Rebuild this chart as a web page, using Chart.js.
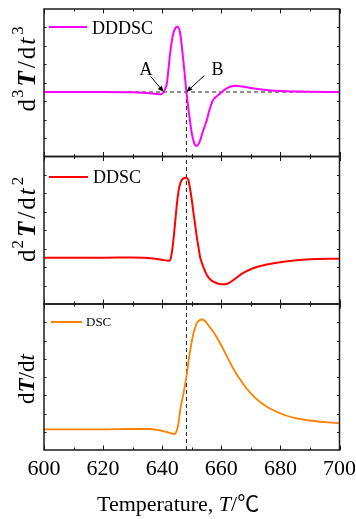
<!DOCTYPE html>
<html>
<head>
<meta charset="utf-8">
<script src="https://cdn.jsdelivr.net/npm/chart.js@4/dist/chart.umd.min.js"></script>
<style>
html,body{margin:0;padding:0;background:#fff;}
#wrap{position:relative;width:356px;height:519px;}
canvas{position:absolute;left:0;top:0;}
</style>
</head>
<body>
<div id="wrap">
<canvas id="c1" width="356" height="519"></canvas>
<canvas id="c2" width="356" height="519"></canvas>
<canvas id="c3" width="356" height="519"></canvas>
</div>
<script>
// ---------------- data ----------------
const xMin = 600, xMax = 700;
const xTickLabels = [600, 620, 640, 660, 680, 700];

const dddscT = [600,610,620,630,635,638,639.5,640.5,641,641.6,642.1,642.7,643.2,643.8,644.6,645.3,646,646.4,646.7,647.2,647.8,648.2,648.6,649,649.5,650,650.6,651.1,651.7,652.3,652.9,653.5,654.3,655.1,655.7,656.3,657,657.6,658.4,659.2,660,661,661.8,663.5,665,667,670,673,676,680,685,690,700];
const dddscV = [0,0,0,-0.3,-1,-2,-2.3,0,3,9,22,39,50,59,64.5,65.3,60,52,44,30,12,0,-10,-20,-31,-41,-49,-53,-54,-52,-48,-42,-35,-28,-21,-15,-9.5,-6.5,-4.5,-2.5,-0.5,2,3.7,5.8,6.3,5.5,4,2.7,1.8,1,0.5,0.2,0];

const ddscT = [600,620,630,633.6,637,640,642.2,642.7,643.2,643.8,644.4,645,645.5,646.1,647,648.1,648.8,649.5,650.1,650.6,651.2,651.7,652.3,652.8,653.4,654,655.1,656.2,657.3,659,661.3,662.5,664.1,667,670.8,675,681,690,700];
const ddscV = [0,0,0.2,0,-0.8,-2,-3,-2.2,4,17.7,36,54.4,66,74.4,79,80,78,67.7,56,44.4,32,21,10,1,-5,-10,-17.3,-21.5,-24,-26,-26.6,-25.5,-22.3,-16,-10.5,-7,-4,-1.6,-1];

const dscT = [600,620,630,636,638,640,642,643.5,644.1,644.6,645.1,645.6,646.1,647.2,648.2,649,649.5,650.1,650.6,651.2,651.7,652.6,653.6,654.5,655.5,656.4,657.3,659.5,661.8,664,666.3,668.5,670.8,673,675.3,678,680.9,685,690,695,700];
const dscV = [0,0,0.3,0.3,-0.5,-1.5,-3,-4.5,-4.7,-3.5,0.5,8,19.3,36,52.6,70,79.3,89,96.3,102,106,109,109.8,108.3,104.5,101,97.6,86.5,73.5,61,50,41,33.5,27.5,22.8,18.5,14.8,11.2,8.8,7.2,6];

const markerT = 648.2;   // vertical dashed line
const pointA = 640.5;    // A
const pointB = 648.2;    // B
const yRange1 = [-64.5, 83];
const yRange2 = [-46.3, 101.2];
const yRange3 = [-20.7, 125.3];

// ---------------- helpers ----------------
const SERIF = '"Liberation Serif", "Times New Roman", serif';
const pts = (T, V) => T.map((t, i) => ({x: t, y: V[i]}));

function richText(ctx, parts, x, y, rotate) {
  ctx.save();
  ctx.translate(x, y);
  if (rotate) ctx.rotate(-Math.PI / 2);
  ctx.textBaseline = 'alphabetic';
  ctx.textAlign = 'left';
  ctx.fillStyle = '#000';
  let cx = 0;
  for (const p of parts) {
    ctx.font = p.f;
    ctx.fillText(p.t, cx, p.dy || 0);
    cx += ctx.measureText(p.t).width + (p.gap || 0);
  }
  ctx.restore();
}
const fR = '23px ' + SERIF, fBI = 'italic bold 23px ' + SERIF, fI = 'italic 23px ' + SERIF;
const xR = '22px ' + SERIF, xI = 'italic 22px ' + SERIF;
const gR = '25px ' + SERIF, gBI = 'italic bold 25px ' + SERIF, gI = 'italic 25px ' + SERIF, gS = '17px ' + SERIF;

function arrow(ctx, x0, y0, x1, y1) {
  const ang = Math.atan2(y1 - y0, x1 - x0), L = 6, W = 2.6;
  ctx.beginPath(); ctx.moveTo(x0, y0); ctx.lineTo(x1 - L * 0.6 * Math.cos(ang), y1 - L * 0.6 * Math.sin(ang)); ctx.stroke();
  ctx.beginPath();
  ctx.moveTo(x1, y1);
  ctx.lineTo(x1 - L * Math.cos(ang) + W * Math.sin(ang), y1 - L * Math.sin(ang) - W * Math.cos(ang));
  ctx.lineTo(x1 - L * Math.cos(ang) - W * Math.sin(ang), y1 - L * Math.sin(ang) + W * Math.cos(ang));
  ctx.closePath(); ctx.fill();
}

const decor = {
  id: 'decor',
  afterDatasetsDraw(chart, args, o) {
    const {ctx, chartArea: a} = chart;
    const x = chart.scales.x, y = chart.scales.y;
    ctx.save();
    // frame
    ctx.strokeStyle = '#1a1a1a';
    ctx.lineWidth = 1.5;
    ctx.strokeRect(a.left, a.top, a.right - a.left, a.bottom - a.top);
    // inward ticks
    ctx.lineWidth = 1;
    ctx.beginPath();
    for (let t = xMin; t <= xMax; t += 10) {
      const px = Math.round(x.getPixelForValue(t)) + 0.5;
      const len = (t % 20 === 0) ? 4.5 : 2.5;
      ctx.moveTo(px, a.bottom); ctx.lineTo(px, a.bottom - len);
      ctx.moveTo(px, a.top); ctx.lineTo(px, a.top + len);
    }
    for (let i = 1; i < 8; i++) {
      const v = y.min + (y.max - y.min) * i / 8;
      const py = Math.round(y.getPixelForValue(v)) + 0.5;
      ctx.moveTo(a.left, py); ctx.lineTo(a.left + 2.5, py);
      ctx.moveTo(a.right, py); ctx.lineTo(a.right - 2.5, py);
    }
    ctx.stroke();
    // legend
    ctx.strokeStyle = o.color;
    ctx.lineWidth = 2;
    ctx.beginPath(); ctx.moveTo(o.lx0, o.ly); ctx.lineTo(o.lx1, o.ly); ctx.stroke();
    ctx.fillStyle = '#000';
    ctx.font = o.lfont;
    ctx.textBaseline = 'alphabetic';
    ctx.fillText(o.label, o.tx, o.ty);
    // y title
    richText(ctx, o.title, o.titleX, o.titleY, true);
    // annotations
    if (o.annot) {
      ctx.fillStyle = '#000';
      ctx.strokeStyle = '#000';
      ctx.lineWidth = 1;
      ctx.font = '18px ' + SERIF;
      ctx.fillText('A', 139.5, 75);
      ctx.fillText('B', 211.5, 75);
      const ax = x.getPixelForValue(pointA), ay = y.getPixelForValue(0);
      const bx = x.getPixelForValue(pointB), by = y.getPixelForValue(0);
      arrow(ctx, ax - 13, ay - 15.5, ax, ay);
      arrow(ctx, bx + 18, by - 16.5, bx, by);
    }
    if (o.xTitle) {
      richText(ctx, [
        {t: 'Temperature, ', f: xR},
        {t: 'T', f: xI},
        {t: '/', f: xR},
        {t: '\u2103', f: '22px "Noto Sans CJK SC", ' + SERIF}
      ], 97, 511, false);
    }
    ctx.restore();
  }
};

function makeChart(id, datasets, yr, pad, showX, o) {
  return new Chart(document.getElementById(id), {
    type: 'line',
    data: {datasets},
    options: {
      responsive: false,
      animation: false,
      devicePixelRatio: 1,
      events: [],
      layout: {padding: pad},
      plugins: {legend: {display: false}, tooltip: {enabled: false}, decor: o},
      scales: {
        x: {
          type: 'linear', min: xMin, max: xMax, display: showX,
          grid: {display: false, drawTicks: false},
          border: {display: false},
          afterBuildTicks: (s) => { s.ticks = xTickLabels.map(v => ({value: v})); },
          afterFit: (s) => {
            s.paddingLeft = 0; s.paddingRight = 0; s.paddingTop = 0; s.paddingBottom = 0;
            s.height = showX ? 40 : 0;
          },
          ticks: {font: {family: SERIF, size: 22, lineHeight: 1.2}, color: '#000', padding: 6}
        },
        y: {type: 'linear', min: yr[0], max: yr[1], display: false}
      }
    },
    plugins: [decor]
  });
}

const lineDs = (T, V, color, w) => ({data: pts(T, V), borderColor: color, borderWidth: w, pointRadius: 0, fill: false, cubicInterpolationMode: 'monotone'});
const dashDs = (data) => ({data, borderColor: '#222', borderWidth: 1, borderDash: [4, 3], pointRadius: 0, fill: false, tension: 0});

const supTitle = (n) => [
  {t: 'd', f: gR, gap: 1}, {t: n, f: gS, dy: -12, gap: 3}, {t: 'T', f: gBI, gap: 3},
  {t: '/', f: gR, gap: 2}, {t: 'd', f: gR, gap: 2}, {t: 't', f: gI, gap: 3}, {t: n, f: gS, dy: -12}
];

makeChart('c1', [
  lineDs(dddscT, dddscV, '#ff00ff', 2),
  dashDs([{x: xMin, y: 0}, {x: xMax, y: 0}]),
  dashDs([{x: markerT, y: 0}, {x: markerT, y: yRange1[0]}])
], yRange1, {left: 44, right: 16.5, top: 9, bottom: 519 - 156.5}, false, {
  color: '#ff00ff', lx0: 49, lx1: 87, ly: 27, label: 'DDDSC', lfont: '18px ' + SERIF, tx: 92, ty: 34,
  title: supTitle('3'), titleX: 34.5, titleY: 111.5, annot: true
});

makeChart('c2', [
  lineDs(ddscT, ddscV, '#ff0000', 2),
  dashDs([{x: markerT, y: yRange2[0]}, {x: markerT, y: yRange2[1]}])
], yRange2, {left: 44, right: 16.5, top: 156.5, bottom: 519 - 304}, false, {
  color: '#ff0000', lx0: 49, lx1: 88, ly: 177, label: 'DDSC', lfont: '18px ' + SERIF, tx: 93, ty: 182.5,
  title: supTitle('2'), titleX: 34.5, titleY: 262
});

makeChart('c3', [
  lineDs(dscT, dscV, '#ff8000', 1.8),
  dashDs([{x: markerT, y: yRange3[0]}, {x: markerT, y: yRange3[1]}])
], yRange3, {left: 44, right: 16.5, top: 304, bottom: 519 - 450 - 40}, true, {
  color: '#ff8000', lx0: 51, lx1: 82, ly: 322, label: 'DSC', lfont: '13px ' + SERIF, tx: 86, ty: 326,
  title: [{t: 'd', f: fR}, {t: 'T', f: fBI}, {t: '/d', f: fR}, {t: 't', f: fI}],
  titleX: 34, titleY: 404, xTitle: true
});
</script>
</body>
</html>
